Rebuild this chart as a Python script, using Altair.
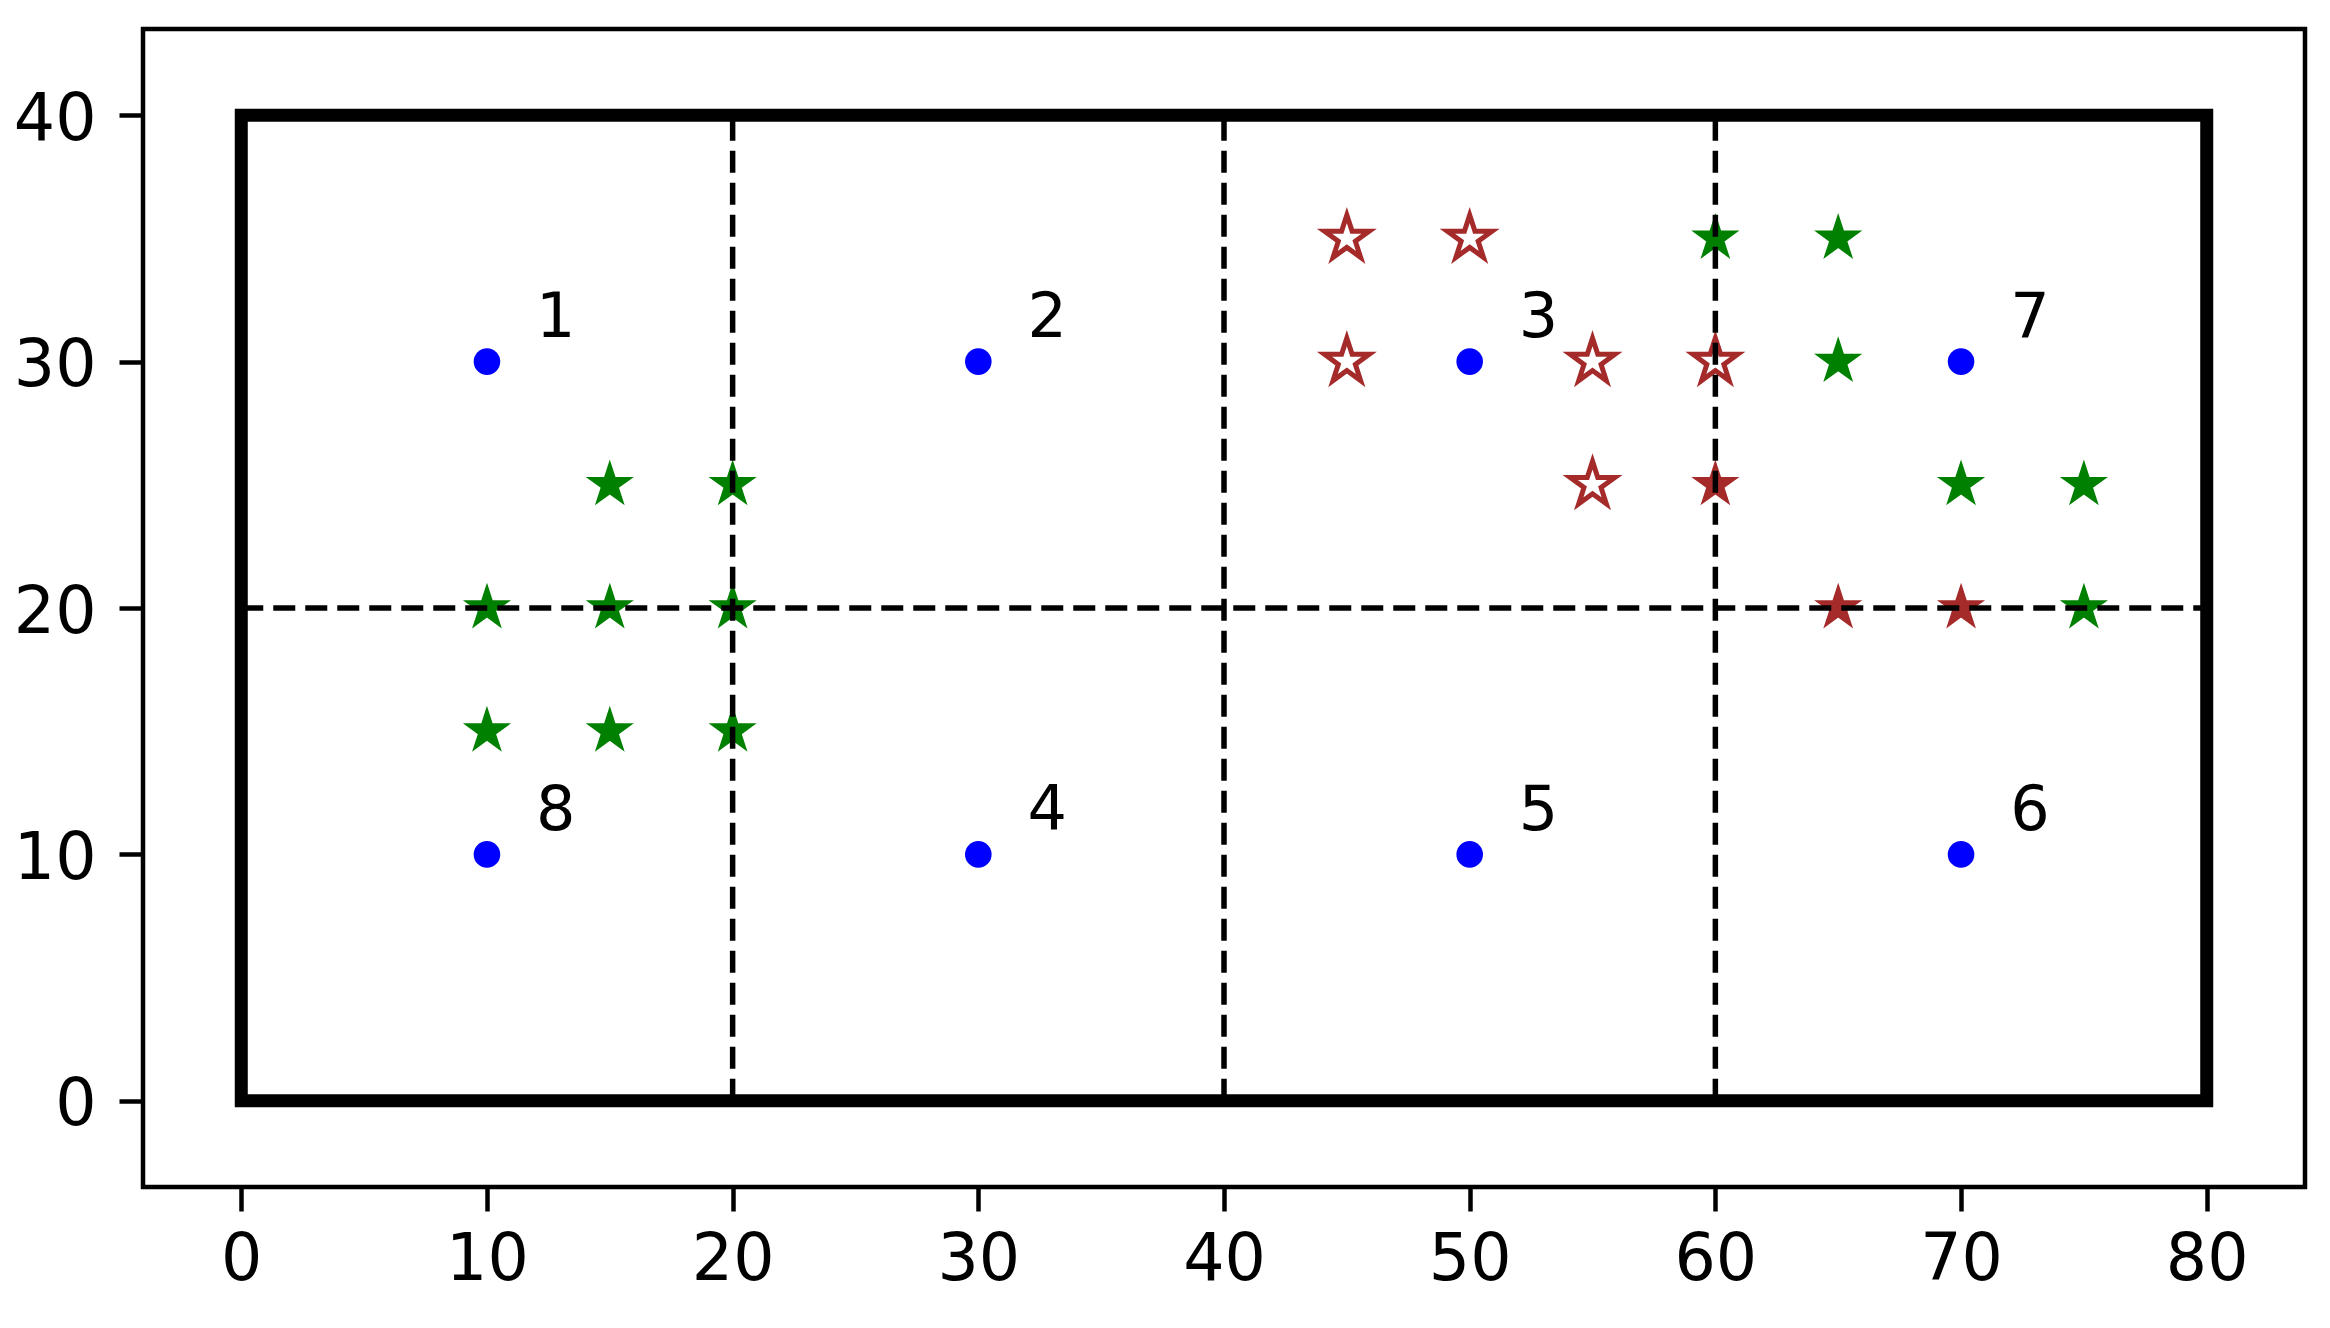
import altair as alt
import pandas as pd

# ---- data ----
cell_ids = ["1", "2", "3", "4", "5", "6", "7", "8"]
cell_x = [10, 30, 50, 30, 50, 70, 70, 10]
cell_y = [30, 30, 30, 10, 10, 10, 30, 10]

green_x = [15, 20, 10, 15, 20, 10, 15, 20, 60, 65, 65, 70, 75, 75]
green_y = [25, 25, 20, 20, 20, 15, 15, 15, 35, 35, 30, 25, 25, 20]

red_hollow_x = [45, 50, 45, 55, 60, 55]
red_hollow_y = [35, 35, 30, 30, 30, 25]

red_filled_x = [60, 65, 70]
red_filled_y = [25, 20, 20]

frame_x = [0]
frame_x2 = [80]
frame_y = [0]
frame_y2 = [40]

div_x = [20, 40, 60, 0]
div_x2 = [20, 40, 60, 80]
div_y = [0, 0, 0, 20]
div_y2 = [40, 40, 40, 20]

x_ticks = [0, 10, 20, 30, 40, 50, 60, 70, 80]
y_ticks = [0, 10, 20, 30, 40]

# ---- tables ----
cells = pd.DataFrame({"id": cell_ids, "x": cell_x, "y": cell_y})
green = pd.DataFrame({"x": green_x, "y": green_y})
red_hollow = pd.DataFrame({"x": red_hollow_x, "y": red_hollow_y})
red_filled = pd.DataFrame({"x": red_filled_x, "y": red_filled_y})
frame = pd.DataFrame({"x": frame_x, "x2": frame_x2, "y": frame_y, "y2": frame_y2})
divs = pd.DataFrame({"x": div_x, "x2": div_x2, "y": div_y, "y2": div_y2})

STAR = ("M0,-1L0.2245,-0.309L0.951,-0.309L0.363,0.118L0.588,0.809"
        "L0,0.382L-0.588,0.809L-0.363,0.118L-0.951,-0.309L-0.2245,-0.309Z")

FONT = "DejaVu Sans"
RED = "#a52a2a"
GREEN = "#008000"

xs = alt.Scale(domain=[-4, 84], nice=False, zero=False)
ys = alt.Scale(domain=[-3.5, 43.5], nice=False, zero=False)

xax = alt.Axis(values=x_ticks, title=None, grid=False, domain=False,
               tickColor="black", tickWidth=4.5, tickSize=24,
               labelFont=FONT, labelFontSize=65, labelColor="black",
               labelPadding=17, labelFlush=False, labelOverlap=False)
yax = alt.Axis(values=y_ticks, title=None, grid=False, domain=False,
               tickColor="black", tickWidth=4.5, tickSize=24,
               labelFont=FONT, labelFontSize=65, labelColor="black",
               labelPadding=23, labelFlush=False, labelOverlap=False,
               labelOffset=4)

X = alt.X("x:Q", scale=xs, axis=xax)
Y = alt.Y("y:Q", scale=ys, axis=yax)

green_layer = alt.Chart(green).mark_point(
    shape=STAR, filled=True, fill=GREEN, stroke=GREEN, strokeWidth=1.5,
    size=2100, opacity=1
).encode(x=X, y=Y)

red_hollow_layer = alt.Chart(red_hollow).mark_point(
    shape=STAR, filled=False, fill="white", fillOpacity=1, stroke=RED,
    strokeWidth=5, size=2200, opacity=1
).encode(x=X, y=Y)

red_filled_layer = alt.Chart(red_filled).mark_point(
    shape=STAR, filled=True, fill=RED, stroke=RED, strokeWidth=1.5,
    size=2100, opacity=1
).encode(x=X, y=Y)

dots = alt.Chart(cells).mark_circle(
    color="#0000ff", size=707, opacity=1
).encode(x=X, y=Y)

labels = alt.Chart(cells).transform_calculate(
    lx="datum.x + 2", ly="datum.y + 1"
).mark_text(
    font=FONT, fontSize=62, color="black", align="left", baseline="alphabetic"
).encode(
    x=alt.X("lx:Q", scale=xs, axis=xax),
    y=alt.Y("ly:Q", scale=ys, axis=yax),
    text="id:N",
)

frame_layer = alt.Chart(frame).mark_rect(
    filled=False, stroke="black", strokeWidth=13, strokeJoin="miter"
).encode(x=X, x2="x2:Q", y=Y, y2="y2:Q")

div_layer = alt.Chart(divs).mark_rule(
    color="black", strokeWidth=5.5, strokeDash=[22, 10]
).encode(x=X, x2="x2:Q", y=Y, y2="y2:Q")

chart = alt.layer(
    green_layer, red_hollow_layer, red_filled_layer, dots, labels,
    frame_layer, div_layer
).properties(
    width=2162, height=1158,
    autosize=alt.AutoSizeParams(type="none"),
    padding={"left": 135, "top": 21, "right": 17, "bottom": 133},
).configure(
    background="white"
).configure_view(
    stroke="black", strokeWidth=4.5
)

chart.save("out.html", embed_options={"renderer": "svg", "actions": False})
